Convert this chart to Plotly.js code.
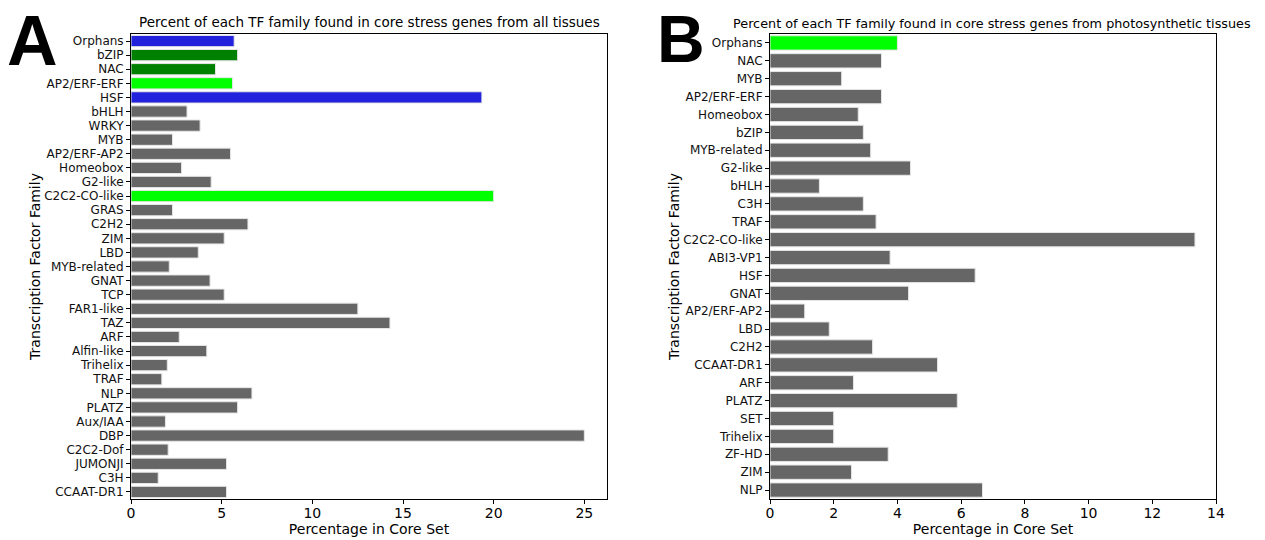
<!DOCTYPE html>
<html><head><meta charset="utf-8">
<script src="https://cdn.plot.ly/plotly-3.0.1.min.js"></script>
<style>body{margin:0;padding:0;background:#fff}#chart{width:1265px;height:540px}</style>
</head><body><div id="chart"></div>
<script>
// Panel A: all tissues
const familiesA = ["Orphans","bZIP","NAC","AP2/ERF-ERF","HSF","bHLH","WRKY","MYB","AP2/ERF-AP2","Homeobox","G2-like","C2C2-CO-like","GRAS","C2H2","ZIM","LBD","MYB-related","GNAT","TCP","FAR1-like","TAZ","ARF","Alfin-like","Trihelix","TRAF","NLP","PLATZ","Aux/IAA","DBP","C2C2-Dof","JUMONJI","C3H","CCAAT-DR1"];
const valuesA = [5.69,5.88,4.66,5.60,19.35,3.09,3.81,2.29,5.49,2.79,4.42,20.0,2.29,6.45,5.14,3.71,2.11,4.36,5.14,12.51,14.28,2.66,4.18,2.0,1.70,6.67,5.88,1.90,25.0,2.05,5.27,1.50,5.27];
const colorsA = ["#2222dd","#008000","#008000","#00ff00","#2222dd","#666666","#666666","#666666","#666666","#666666","#666666","#00ff00","#666666","#666666","#666666","#666666","#666666","#666666","#666666","#666666","#666666","#666666","#666666","#666666","#666666","#666666","#666666","#666666","#666666","#666666","#666666","#666666","#666666"];

// Panel B: photosynthetic tissues
const familiesB = ["Orphans","NAC","MYB","AP2/ERF-ERF","Homeobox","bZIP","MYB-related","G2-like","bHLH","C3H","TRAF","C2C2-CO-like","ABI3-VP1","HSF","GNAT","AP2/ERF-AP2","LBD","C2H2","CCAAT-DR1","ARF","PLATZ","SET","Trihelix","ZF-HD","ZIM","NLP"];
const valuesB = [4.0,3.50,2.25,3.50,2.77,2.93,3.16,4.41,1.55,2.93,3.33,13.34,3.77,6.44,4.35,1.09,1.86,3.22,5.26,2.62,5.88,2.0,2.0,3.71,2.56,6.67];
const colorsB = ["#00ff00","#666666","#666666","#666666","#666666","#666666","#666666","#666666","#666666","#666666","#666666","#666666","#666666","#666666","#666666","#666666","#666666","#666666","#666666","#666666","#666666","#666666","#666666","#666666","#666666","#666666"];

const titleA = "Percent of each TF family found in core stress genes from all tissues";
const titleB = "Percent of each TF family found in core stress genes from photosynthetic tissues";
const xTitle = "Percentage in Core Set";
const yTitle = "Transcription Factor Family";

const W = 1265, H = 540;
const FONT = "DejaVu Sans, sans-serif";
const yDom = [1 - 499/H, 1 - 34/H];

const traces = [
  {type:"bar", orientation:"h", x:valuesA, y:familiesA, xaxis:"x", yaxis:"y", width:0.8,
   marker:{color:colorsA, line:{color:"#e6e6e6", width:1}}, hoverinfo:"x+y"},
  {type:"bar", orientation:"h", x:valuesB, y:familiesB, xaxis:"x2", yaxis:"y2", width:0.8,
   marker:{color:colorsB, line:{color:"#e6e6e6", width:1}}, hoverinfo:"x+y"}
];

function xax(dom, range, dtick, anchor){
  return {domain:dom, range:range, dtick:dtick, anchor:anchor, showgrid:false, zeroline:false,
    showline:true, mirror:true, linecolor:"#000", linewidth:1, ticks:"outside", ticklen:4, tickcolor:"#000",
    ticklabelstandoff:-3,
    tickfont:{family:FONT, size:14, color:"#000"},
    title:{text:xTitle, font:{family:FONT, size:14, color:"#000"}, standoff:0}};
}
function yax(cats, anchor){
  const n = cats.length;
  return {domain:yDom, range:[n-0.5,-0.5], type:"category", anchor:anchor, showgrid:false, zeroline:false,
    tickmode:"array", tickvals:cats, ticktext:cats,
    showline:true, mirror:true, linecolor:"#000", linewidth:1, ticks:"outside", ticklen:4, tickcolor:"#000",
    tickfont:{family:FONT, size:12, color:"#111"},
    title:{text:yTitle, font:{family:FONT, size:14, color:"#000"}, standoff:0}};
}

const layout = {
  width:W, height:H, margin:{l:0,r:0,t:0,b:0}, showlegend:false,
  paper_bgcolor:"#fff", plot_bgcolor:"#fff", bargap:0.2,
  xaxis: xax([131/W, 607/W], [0, 26.25], 5, "y"),
  yaxis: yax(familiesA, "x"),
  xaxis2: xax([770/W, 1216/W], [0, 14], 2, "y2"),
  yaxis2: yax(familiesB, "x2"),
  annotations:[
    {text:titleA, xref:"paper", yref:"paper", x:369/W, y:1-22/H, xanchor:"center", yanchor:"middle", showarrow:false,
     font:{family:FONT, size:13.5, color:"#000"}},
    {text:titleB, xref:"paper", yref:"paper", x:992/W, y:1-24/H, xanchor:"center", yanchor:"middle", showarrow:false,
     font:{family:FONT, size:12.8, color:"#000"}},
    {text:"<b>A</b>", xref:"paper", yref:"paper", x:5/W, y:1, xanchor:"left", yanchor:"top", showarrow:false,
     font:{family:"Liberation Sans, Arial, sans-serif", size:70, color:"#000"}},
    {text:"<b>B</b>", xref:"paper", yref:"paper", x:655/W, y:1, xanchor:"left", yanchor:"top", showarrow:false,
     font:{family:"Liberation Sans, Arial, sans-serif", size:66, color:"#000"}}
  ]
};

Plotly.newPlot("chart", traces, layout, {displayModeBar:false, staticPlot:true});
</script></body></html>
